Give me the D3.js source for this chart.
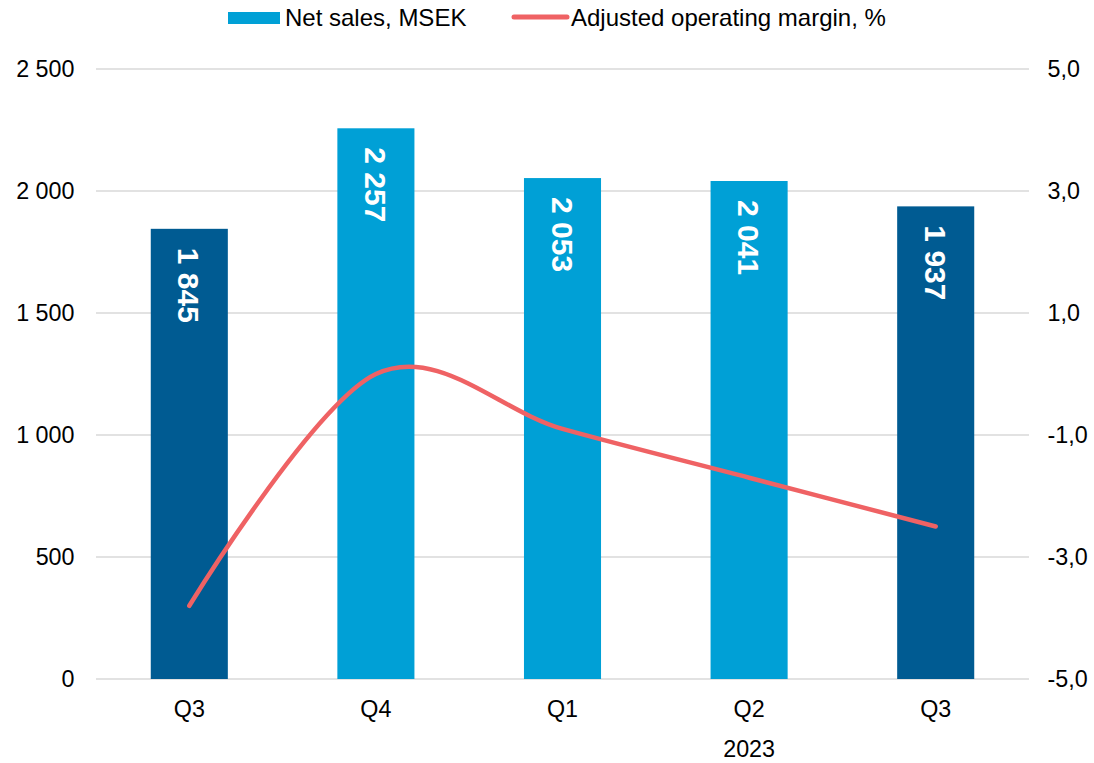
<!DOCTYPE html>
<html><head><meta charset="utf-8">
<script src="https://cdn.jsdelivr.net/npm/d3@7"></script>
<style>body{margin:0;background:#fff}svg{display:block;font-family:"Liberation Sans",Arial,sans-serif}</style>
</head><body><svg id="c" width="1094" height="763"></svg>
<script>
const categories = ["Q3", "Q4", "Q1", "Q2", "Q3 "];
const categoryLabels = ["Q3", "Q4", "Q1", "Q2", "Q3"];
const netSales = [1845, 2257, 2053, 2041, 1937];
const margin = [-3.8, 0.0, -0.9, -1.7, -2.5];
const barColors = ["#005b92", "#00a0d6", "#00a0d6", "#00a0d6", "#005b92"];
const leftTicks = [0, 500, 1000, 1500, 2000, 2500];
const rightTicks = [-5, -3, -1, 1, 3, 5];
const yearLabel = "2023";

const FS = 23.3;
const svg = d3.select("#c");
const x = d3.scaleBand().domain(categories).range([96, 1029]).paddingInner(0.587).paddingOuter(0.2935);
const yL = d3.scaleLinear().domain([0, 2500]).range([679, 69]);
const yR = d3.scaleLinear().domain([-5, 5]).range([679, 69]);

// gridlines
svg.append("g").selectAll("line").data(leftTicks).join("line")
  .attr("x1", 96).attr("x2", 1029)
  .attr("y1", d => yL(d)).attr("y2", d => yL(d))
  .attr("stroke", "#d9d9d9").attr("stroke-width", 1.3);

// bars
svg.append("g").selectAll("rect").data(netSales).join("rect")
  .attr("x", (d, i) => x(categories[i])).attr("width", x.bandwidth())
  .attr("y", d => yL(d)).attr("height", d => yL(0) - yL(d))
  .attr("fill", (d, i) => barColors[i]);

// bar labels
const fmt = v => d3.format(",")(v).replace(/,/g, " ");
svg.append("g").selectAll("text").data(netSales).join("text")
  .attr("transform", (d, i) => `translate(${x(categories[i]) + x.bandwidth() / 2},${yL(d) + 19}) rotate(90)`)
  .attr("dy", "0.36em").attr("text-anchor", "start")
  .attr("fill", "#fff").attr("font-weight", "bold").attr("font-size", 30)
  .text(d => fmt(d));

// line
const line = d3.line().x((d, i) => x(categories[i]) + x.bandwidth() / 2).y(d => yR(d)).curve(d3.curveCardinal.tension(0));
svg.append("path").datum(margin).attr("d", line)
  .attr("fill", "none").attr("stroke", "#ef6264").attr("stroke-width", 4.5).attr("stroke-linecap", "round");

// left axis
const axL = d3.axisLeft(yL).tickValues(leftTicks).tickSize(0).tickPadding(0).tickFormat(fmt);
const gL = svg.append("g").attr("transform", "translate(74.5,0)").call(axL);
gL.select(".domain").remove();
gL.selectAll("text").attr("font-size", FS).attr("fill", "#000").attr("font-family", "Liberation Sans, Arial, sans-serif");

// right axis
const fmtR = v => d3.format(".1f")(v).replace(".", ",").replace("−", "-");
const axR = d3.axisRight(yR).tickValues(rightTicks).tickSize(0).tickPadding(0).tickFormat(fmtR);
const gR = svg.append("g").attr("transform", "translate(1047.5,0)").call(axR);
gR.select(".domain").remove();
gR.selectAll("text").attr("font-size", FS).attr("fill", "#000").attr("font-family", "Liberation Sans, Arial, sans-serif");

// x axis
const axB = d3.axisBottom(x).tickSize(0).tickPadding(0).tickFormat((d, i) => categoryLabels[i]);
const gB = svg.append("g").attr("transform", "translate(0,700)").call(axB);
gB.select(".domain").remove();
gB.selectAll("text").attr("font-size", FS).attr("fill", "#000").attr("font-family", "Liberation Sans, Arial, sans-serif");

svg.append("text").attr("x", x(categories[3]) + x.bandwidth() / 2).attr("y", 757)
  .attr("text-anchor", "middle").attr("font-size", FS).text(yearLabel);

// legend
const lg = svg.append("g");
lg.append("rect").attr("x", 228).attr("y", 12).attr("width", 52).attr("height", 12).attr("fill", "#00a0d6");
lg.append("text").attr("x", 285).attr("y", 26).attr("font-size", 24).text("Net sales, MSEK");
lg.append("line").attr("x1", 514).attr("x2", 567).attr("y1", 17).attr("y2", 17)
  .attr("stroke", "#ef6264").attr("stroke-width", 5).attr("stroke-linecap", "round");
lg.append("text").attr("x", 571).attr("y", 26).attr("font-size", 24).text("Adjusted operating margin, %");
</script></body></html>
